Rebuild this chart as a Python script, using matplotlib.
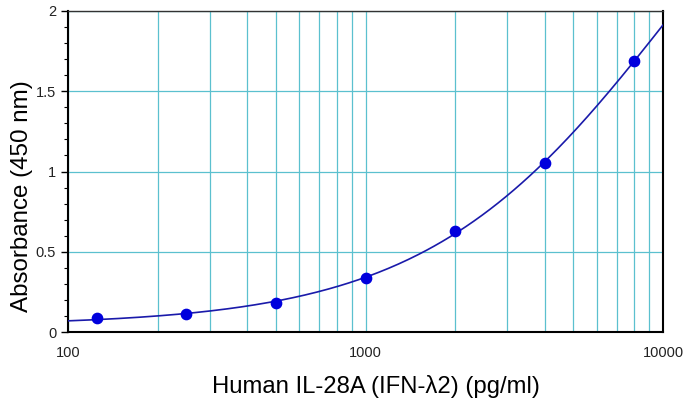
import numpy as np
import matplotlib.pyplot as plt
from matplotlib.ticker import MultipleLocator, FixedLocator, NullFormatter, FormatStrFormatter

plt.rcParams['font.family'] = ['Liberation Sans', 'DejaVu Sans']

# standard curve data
conc = [125, 250, 500, 1000, 2000, 4000, 8000]
absorbance = [0.089, 0.112, 0.18, 0.336, 0.63, 1.05, 1.69]

grid_color = '#5bc0cf'
dot_color = '#0000dd'
line_color = '#1a1aaa'


def fit_4pl(x, y):
    # grid search on slope/midpoint, linear least squares for the asymptotes
    x = np.asarray(x, float)
    y = np.asarray(y, float)
    best = None
    for b in np.linspace(0.5, 3.0, 126):
        for logc in np.linspace(3.0, 6.0, 301):
            g = 1.0 / (1.0 + (x / 10 ** logc) ** b)
            A = np.column_stack([g, 1 - g])
            p, *_ = np.linalg.lstsq(A, y, rcond=None)
            err = np.sum((A @ p - y) ** 2)
            if best is None or err < best[0]:
                best = (err, p[0], b, 10 ** logc, p[1])
    return best[1:]


def eval_4pl(x, a, b, c, d):
    return d + (a - d) / (1.0 + (x / c) ** b)


params = fit_4pl(conc, absorbance)

fig = plt.figure(figsize=(6.83, 4.01), dpi=100)
ax = fig.add_axes([68 / 683, 1 - 332 / 401, (663 - 68) / 683, (332 - 11) / 401])

xs = np.logspace(2, 4, 300)
ax.plot(xs, eval_4pl(xs, *params), color=line_color, lw=1.2, zorder=3)
ax.scatter(conc, absorbance, s=55, color=dot_color, zorder=4)

ax.set_xscale('log')
ax.set_xlim(100, 10000)
ax.set_ylim(0, 2)

ax.xaxis.set_major_locator(FixedLocator([100, 1000, 10000]))
ax.xaxis.set_major_formatter(FormatStrFormatter('%g'))
ax.xaxis.set_minor_locator(FixedLocator([k * d for d in (100, 1000) for k in range(2, 10)]))
ax.xaxis.set_minor_formatter(NullFormatter())
ax.yaxis.set_major_locator(MultipleLocator(0.5))
ax.yaxis.set_major_formatter(FormatStrFormatter('%g'))
ax.yaxis.set_minor_locator(MultipleLocator(0.1))

ax.grid(True, which='both', axis='x', color=grid_color, lw=0.9)
ax.grid(True, which='major', axis='y', color=grid_color, lw=0.9)
ax.set_axisbelow(True)

ax.tick_params(axis='x', which='both', length=0, labelsize=10.5, pad=10, labelcolor='#222222')
ax.tick_params(axis='y', which='major', length=5, width=1, labelsize=10.5, direction='out', labelcolor='#222222')
ax.tick_params(axis='y', which='minor', length=3, width=0.8, direction='out')

for side in ('left', 'bottom', 'right'):
    ax.spines[side].set_linewidth(1.5)
    ax.spines[side].set_color('black')
ax.spines['top'].set_color('#333333')
ax.spines['top'].set_linewidth(1.0)

ax.set_xlabel('Human IL-28A (IFN-λ2) (pg/ml)', fontsize=17.2)
ax.xaxis.set_label_coords((376 - 68) / 595, -(386 - 332) / 321)
ax.xaxis.label.set_va('center')
ax.set_ylabel('Absorbance (450 nm)', fontsize=17.4)
ax.yaxis.set_label_coords(-(68 - 22) / 595, (332 - 196) / 321)
ax.yaxis.label.set_va('center')

fig.savefig('out.png', dpi=100)
